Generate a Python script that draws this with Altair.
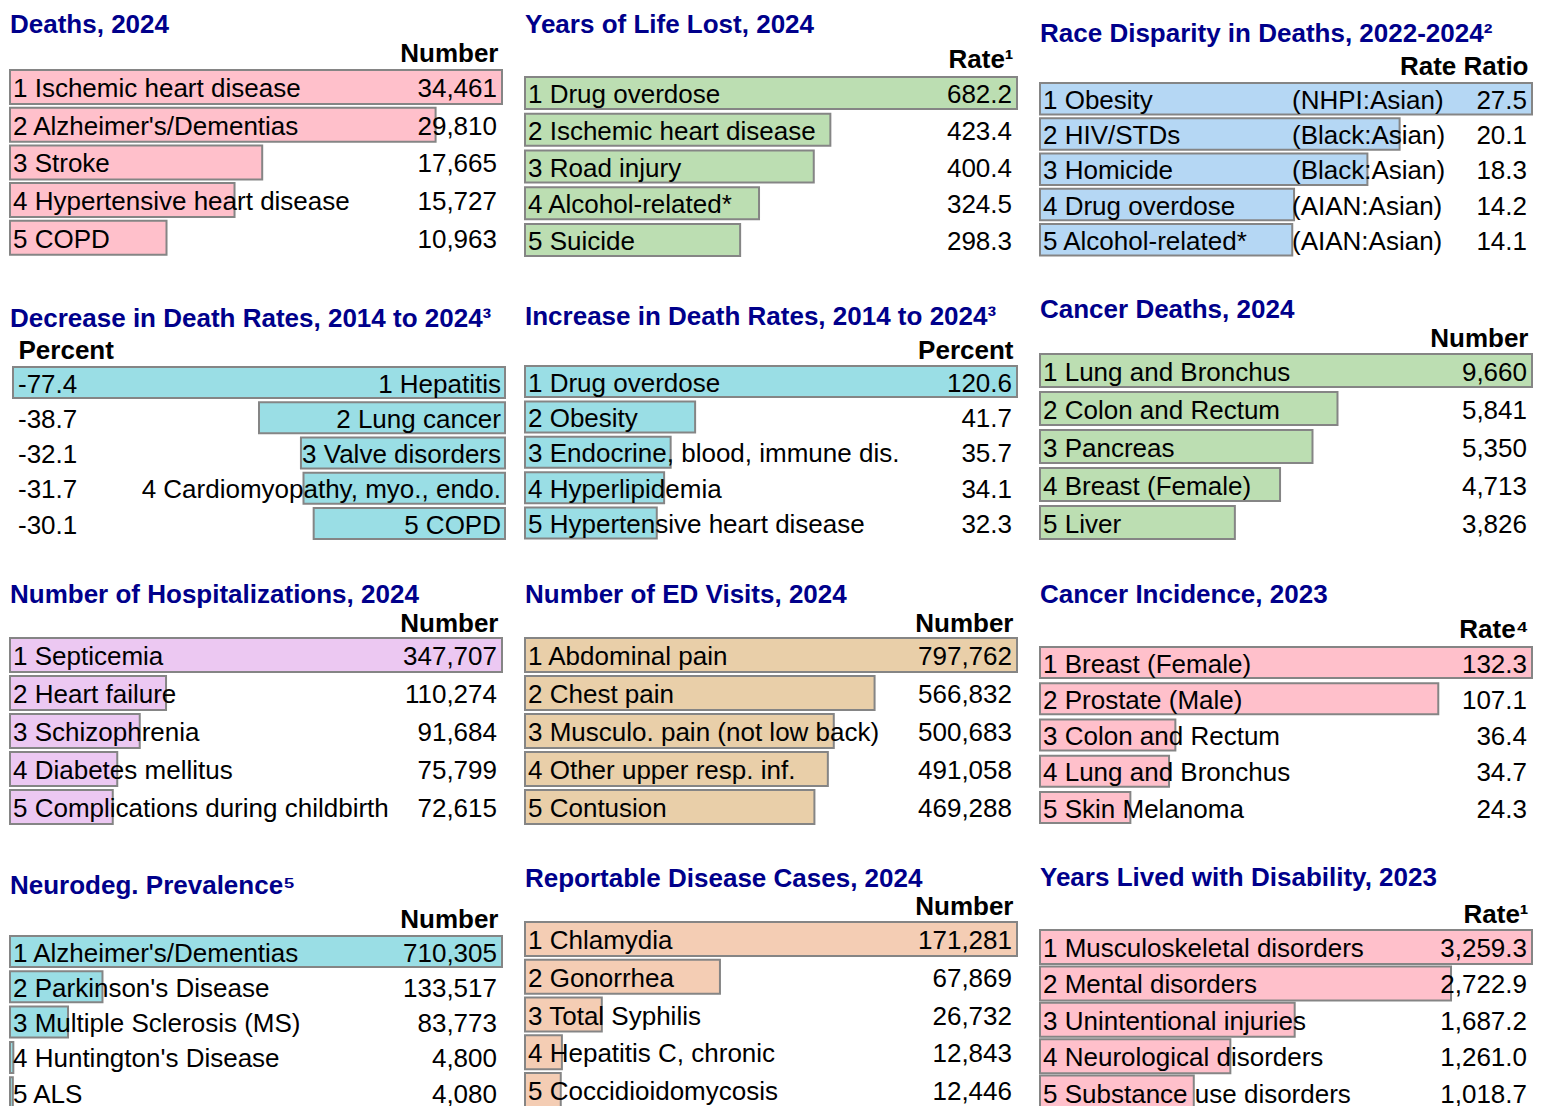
import altair as alt
import pandas as pd

FONT = "Liberation Sans"
TITLE_COLOR = "#00008B"
STROKE = "#858585"
FS = 26

# ---------------- data ----------------
titles = [
    "Deaths, 2024",
    "Years of Life Lost, 2024",
    "Race Disparity in Deaths, 2022-2024²",
    "Decrease in Death Rates, 2014 to 2024³",
    "Increase in Death Rates, 2014 to 2024³",
    "Cancer Deaths, 2024",
    "Number of Hospitalizations, 2024",
    "Number of ED Visits, 2024",
    "Cancer Incidence, 2023",
    "Neurodeg. Prevalence⁵",
    "Reportable Disease Cases, 2024",
    "Years Lived with Disability, 2023",
]
headers = ["Number", "Rate¹", "Rate Ratio", "Percent", "Percent", "Number",
           "Number", "Number", "Rate⁴", "Number", "Number", "Rate¹"]
formats = [",.0f", ",.1f", ".1f", ".1f", ".1f", ",.0f",
           ",.0f", ",.0f", ",.1f", ",.0f", ",.0f", ",.1f"]
colors = ["#FFC0CB", "#BCDEB2", "#B5D7F4", "#9ADEE5", "#9ADEE5", "#BCDEB2",
          "#ECC8F2", "#E9CFA9", "#FFC0CB", "#9ADEE5", "#F4CDB4", "#FFC0CB"]

deaths_names = ["Ischemic heart disease", "Alzheimer's/Dementias", "Stroke",
                "Hypertensive heart disease", "COPD"]
deaths_values = [34461, 29810, 17665, 15727, 10963]

yll_names = ["Drug overdose", "Ischemic heart disease", "Road injury",
             "Alcohol-related*", "Suicide"]
yll_values = [682.2, 423.4, 400.4, 324.5, 298.3]

race_names = ["Obesity", "HIV/STDs", "Homicide", "Drug overdose", "Alcohol-related*"]
race_groups = ["(NHPI:Asian)", "(Black:Asian)", "(Black:Asian)", "(AIAN:Asian)", "(AIAN:Asian)"]
race_values = [27.5, 20.1, 18.3, 14.2, 14.1]

decrease_names = ["Hepatitis", "Lung cancer", "Valve disorders",
                  "Cardiomyopathy, myo., endo.", "COPD"]
decrease_values = [-77.4, -38.7, -32.1, -31.7, -30.1]

increase_names = ["Drug overdose", "Obesity", "Endocrine, blood, immune dis.",
                  "Hyperlipidemia", "Hypertensive heart disease"]
increase_values = [120.6, 41.7, 35.7, 34.1, 32.3]

cancer_deaths_names = ["Lung and Bronchus", "Colon and Rectum", "Pancreas",
                       "Breast (Female)", "Liver"]
cancer_deaths_values = [9660, 5841, 5350, 4713, 3826]

hosp_names = ["Septicemia", "Heart failure", "Schizophrenia", "Diabetes mellitus",
              "Complications during childbirth"]
hosp_values = [347707, 110274, 91684, 75799, 72615]

ed_names = ["Abdominal pain", "Chest pain", "Musculo. pain (not low back)",
            "Other upper resp. inf.", "Contusion"]
ed_values = [797762, 566832, 500683, 491058, 469288]

cancer_inc_names = ["Breast (Female)", "Prostate (Male)", "Colon and Rectum",
                    "Lung and Bronchus", "Skin Melanoma"]
cancer_inc_values = [132.3, 107.1, 36.4, 34.7, 24.3]

neuro_names = ["Alzheimer's/Dementias", "Parkinson's Disease", "Multiple Sclerosis (MS)",
               "Huntington's Disease", "ALS"]
neuro_values = [710305, 133517, 83773, 4800, 4080]

report_names = ["Chlamydia", "Gonorrhea", "Total Syphilis", "Hepatitis C, chronic",
                "Coccidioidomycosis"]
report_values = [171281, 67869, 26732, 12843, 12446]

yld_names = ["Musculoskeletal disorders", "Mental disorders", "Unintentional injuries",
             "Neurological disorders", "Substance use disorders"]
yld_values = [3259.3, 2722.9, 1687.2, 1261.0, 1018.7]

names = [deaths_names, yll_names, race_names, decrease_names, increase_names,
         cancer_deaths_names, hosp_names, ed_names, cancer_inc_names,
         neuro_names, report_names, yld_names]
values = [deaths_values, yll_values, race_values, decrease_values, increase_values,
          cancer_deaths_values, hosp_values, ed_values, cancer_inc_values,
          neuro_values, report_values, yld_values]

# ---------------- layout (per panel) ----------------
W = 492
ROW_H = 200
LAST_H = 172
# (first band offset, step, band width, header baseline y, title offset)
layout = [
    (1, 37.7, 34, -8, 2.5),
    (8, 36.75, 32, -2, 8.5),
    (14, 35.25, 31.5, 5, 6.5),
    (14, 35.25, 31, 5, 5.5),
    (13, 35.4, 31, 5, 7.5),
    (1, 38, 33, -7, 2.5),
    (1, 38, 34, -6, 2.5),
    (1, 38, 34, -6, 2.5),
    (10, 36.25, 31, 0, 8.5),
    (15, 35.3, 31, 6, 7.5),
    (1, 37.75, 34, -7, 1.5),
    (9, 36.4, 34, 1, 10.5),
]


def panel(i):
    t, step, bw, hy, toff = layout[i]
    vals = values[i]
    reverse = vals[0] < 0
    df = pd.DataFrame({
        "rank": [1, 2, 3, 4, 5],
        "label": [f"{r} {n}" for r, n in zip(range(1, 6), names[i])],
        "value": vals,
        "vtext": [f"{v:{formats[i]}}" for v in vals],
        "zero": [0] * 5,
        "vref": [min(vals) if reverse else max(vals)] * 5,
    })
    if i == 2:
        df["group"] = race_groups

    axis_common = dict(orient="top", labels=False, ticks=False, domain=False, grid=False,
                       title=headers[i], titleY=hy, titleBaseline="alphabetic",
                       titleFont=FONT, titleFontSize=FS, titleFontWeight="bold",
                       titleColor="black")
    if reverse:
        xs = alt.Scale(domain=[min(vals), 0], range=[3, W + 3], nice=False)
        ax = alt.Axis(titleX=8, titleAlign="left", **axis_common)
    else:
        xs = alt.Scale(domain=[0, max(vals)], nice=False)
        ax = alt.Axis(titleX=W - 4, titleAlign="right", **axis_common)

    ys = alt.Scale(domain=[1, 2, 3, 4, 5], range=[t, t + 4 * step + bw],
                   paddingInner=1 - bw / step, paddingOuter=0)

    bars = alt.Chart(df).mark_bar(fill=colors[i], stroke=STROKE, strokeWidth=2).encode(
        x=alt.X("value:Q", scale=xs, axis=ax),
        y=alt.Y("rank:O", scale=ys, axis=None),
    )
    txt = dict(font=FONT, fontSize=FS, color="black", baseline="middle", dy=2)
    labels = alt.Chart(df).mark_text(align="right" if reverse else "left",
                                     dx=-4 if reverse else 3, **txt).encode(
        x=alt.X("zero:Q", axis=ax),
        y=alt.Y("rank:O", axis=None),
        text="label:N",
    )
    nums = alt.Chart(df).mark_text(align="left" if reverse else "right",
                                   dx=5 if reverse else -5, **txt).encode(
        x=alt.X("vref:Q", axis=ax),
        y=alt.Y("rank:O", axis=None),
        text="vtext:N",
    )
    layers = [bars, labels, nums]
    if i == 2:
        grp = alt.Chart(df).mark_text(align="left", dx=252, **txt).encode(
            x=alt.X("zero:Q", axis=ax),
            y=alt.Y("rank:O", axis=None),
            text="group:N",
        )
        layers.append(grp)

    return alt.layer(*layers).properties(
        width=W,
        height=LAST_H if i >= 9 else ROW_H,
        title=alt.TitleParams(text=titles[i], anchor="start", font=FONT, fontSize=FS,
                              fontWeight="bold", color=TITLE_COLOR, offset=toff,
                              frame="group"),
    )


chart = alt.concat(
    *[panel(i) for i in range(12)],
    columns=3,
    spacing={"row": 84, "column": 23},
    bounds="flush",
).properties(
    padding={"left": 1, "top": 3, "right": 0, "bottom": 0},
).configure_view(stroke=None)

chart.save("out.html", embed_options={"renderer": "svg", "actions": False})
